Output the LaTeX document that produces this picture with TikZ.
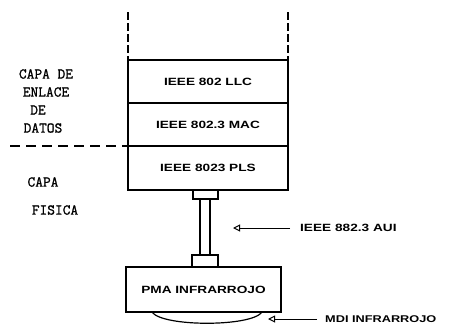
\documentclass[tikz,border=0pt]{standalone}
\usepackage{fontspec}
\usetikzlibrary{arrows.meta}
\newfontfamily\boxfont[FakeStretch=1.3]{Liberation Sans}
\newfontfamily\labfont[FakeBold=1.2]{Latin Modern Mono}
\begin{document}
\begin{tikzpicture}[x=1pt,y=-1pt,
  layer/.style={draw,line width=1.5pt,inner sep=0pt,outer sep=0pt,
    minimum width=160pt,minimum height=43pt,font=\boxfont\bfseries\fontsize{10.5}{12}\selectfont},
  stub/.style={draw,line width=1.5pt,inner sep=0pt,outer sep=0pt},
  sidelab/.style={font=\labfont\fontsize{15}{18}\selectfont,inner sep=0pt,align=center},
  callout/.style={font=\boxfont\bfseries\fontsize{10.5}{12}\selectfont,inner sep=0pt,anchor=west},
  pointer/.style={line width=1pt,-{Triangle[open,length=7pt,width=7pt,line width=1pt]}}]
\useasboundingbox (0,0) rectangle (449,324);
% layer stack
\node[layer] (llc) at (208,81.5) {IEEE 802 LLC};
\node[layer] (mac) at (208,124.5) {IEEE 802.3 MAC};
\node[layer,minimum height=44pt] (pls) at (208,168) {IEEE 8023 PLS};
% top open edges
\coordinate (tl) at (128,12);
\coordinate (tr) at (288,12);
\draw[line width=1.5pt,dash pattern=on 8pt off 3pt] (tl) -- (llc.north west);
\draw[line width=1.5pt,dash pattern=on 8pt off 3pt] (tr) -- (llc.north east);
% layer boundary
\coordinate (dl) at (10,146);
\draw[line width=1.2pt,dash pattern=on 10pt off 6pt] (dl) -- (mac.south west);
% AUI cable
\node[stub,minimum width=25pt,minimum height=9pt] (s1) at (205.5,194.5) {};
\node[stub,minimum width=10pt,minimum height=56pt] (tube) at (205,227) {};
\node[stub,minimum width=26pt,minimum height=12pt] (s2) at (205,261) {};
% PMA
\node[layer,minimum width=155pt,minimum height=45pt] (pma) at (203.5,289.5) {PMA INFRARROJO};
\coordinate (a1) at (152,312);
\coordinate (a2) at (262,312);
\draw[line width=1.2pt] (a1) .. controls (162,327) and (252,327) .. (a2);
% side labels
\node[sidelab] (l1) at (46,74) {CAPA DE};
\node[sidelab] (l2) at (46,92) {ENLACE};
\node[sidelab] (l3) at (38,110) {DE};
\node[sidelab] (l4) at (43,128) {DATOS};
\node[sidelab] (l5) at (43,182) {CAPA};
\node[sidelab] (l6) at (55,210) {FISICA};
% callouts
\node[callout] (aui) at (300,228) {IEEE 882.3 AUI};
\coordinate (auitip) at (233,228);
\draw[pointer] (aui.west) ++(-10,0) coordinate (auis) -- (auitip);
\node[callout,font=\boxfont\bfseries\fontsize{9.8}{12}\selectfont] (mdi) at (325,319) {MDI INFRARROJO};
\coordinate (mditip) at (268,319);
\draw[pointer] (mdi.west) ++(-8,0) coordinate (mdis) -- (mditip);
\end{tikzpicture}
\end{document}
